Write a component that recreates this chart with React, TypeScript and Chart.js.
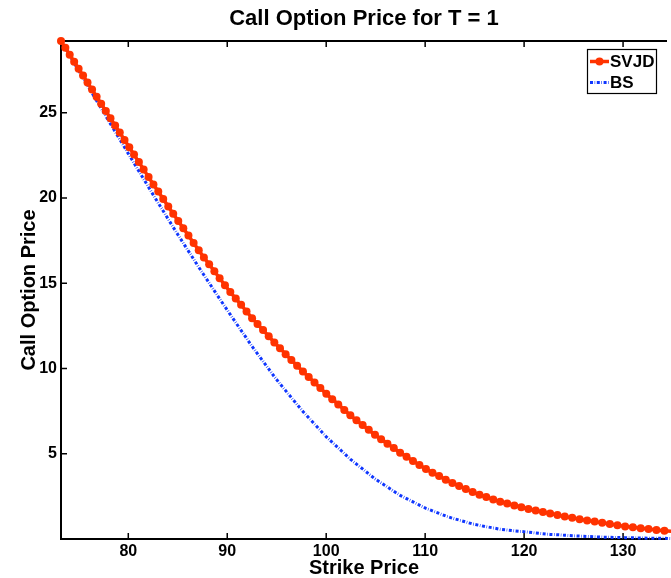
import React, { useEffect, useRef } from "react";
import { Chart, registerables } from "chart.js";

Chart.register(...registerables);

// ---------- data ----------
const strikes = [
  73.2, 73.64, 74.08, 74.53, 74.98, 75.43, 75.88, 76.34, 76.8, 77.26,
  77.73, 78.2, 78.67, 79.14, 79.62, 80.1, 80.58, 81.07, 81.55, 82.05,
  82.54, 83.03, 83.53, 84.04, 84.54, 85.05, 85.56, 86.08, 86.6, 87.12,
  87.64, 88.17, 88.7, 89.23, 89.77, 90.31, 90.86, 91.4, 91.95, 92.51,
  93.06, 93.62, 94.19, 94.76, 95.33, 95.9, 96.48, 97.06, 97.65, 98.23,
  98.82, 99.41, 100.01, 100.61, 101.22, 101.83, 102.44, 103.06, 103.68, 104.3,
  104.93, 105.55, 106.19, 106.83, 107.47, 108.12, 108.77, 109.42, 110.08, 110.74,
  111.41, 112.08, 112.75, 113.43, 114.11, 114.8, 115.49, 116.18, 116.88, 117.58,
  118.29, 119.01, 119.72, 120.44, 121.17, 121.9, 122.63, 123.37, 124.11, 124.86,
  125.61, 126.37, 127.13, 127.89, 128.66, 129.43, 130.21, 130.99, 131.78, 132.57,
  133.37, 134.18, 134.98, 135.8,
];

const svjdPrices = [
  29.2, 28.8, 28.4, 27.99, 27.58, 27.17, 26.76, 26.35, 25.93, 25.52,
  25.09, 24.67, 24.25, 23.83, 23.4, 22.97, 22.54, 22.1, 21.67, 21.22,
  20.79, 20.37, 19.94, 19.5, 19.07, 18.64, 18.22, 17.79, 17.36, 16.93,
  16.51, 16.11, 15.7, 15.29, 14.88, 14.48, 14.1, 13.73, 13.34, 12.95,
  12.6, 12.25, 11.89, 11.52, 11.18, 10.84, 10.5, 10.16, 9.82, 9.5,
  9.17, 8.85, 8.51, 8.2, 7.89, 7.57, 7.25, 6.96, 6.68, 6.4,
  6.11, 5.85, 5.59, 5.33, 5.06, 4.82, 4.58, 4.34, 4.1, 3.89,
  3.69, 3.48, 3.29, 3.11, 2.93, 2.75, 2.6, 2.46, 2.32, 2.19,
  2.08, 1.97, 1.86, 1.76, 1.67, 1.58, 1.49, 1.4, 1.32, 1.24,
  1.16, 1.09, 1.02, 0.95, 0.88, 0.81, 0.74, 0.69, 0.63, 0.58,
  0.53, 0.49, 0.44, 0.4,
];

const bsPrices = [
  29.2, 28.77, 28.34, 27.91, 27.47, 27.03, 26.59, 26.15, 25.7, 25.25,
  24.8, 24.34, 23.89, 23.43, 22.97, 22.5, 22.04, 21.57, 21.11, 20.63,
  20.16, 19.7, 19.23, 18.75, 18.28, 17.81, 17.35, 16.88, 16.41, 15.94,
  15.48, 15.02, 14.55, 14.09, 13.62, 13.16, 12.69, 12.23, 11.77, 11.29,
  10.86, 10.42, 9.97, 9.52, 9.1, 8.7, 8.29, 7.88, 7.48, 7.11,
  6.74, 6.37, 5.99, 5.67, 5.34, 5.01, 4.68, 4.39, 4.11, 3.82,
  3.53, 3.29, 3.05, 2.8, 2.56, 2.37, 2.18, 1.99, 1.8, 1.65,
  1.5, 1.35, 1.22, 1.11, 1.0, 0.88, 0.8, 0.72, 0.65, 0.57,
  0.53, 0.48, 0.44, 0.4, 0.35, 0.31, 0.27, 0.25, 0.22, 0.19,
  0.17, 0.15, 0.13, 0.11, 0.1, 0.09, 0.08, 0.07, 0.06, 0.05,
  0.04, 0.04, 0.03, 0.03,
];

const xTicks = [80, 90, 100, 110, 120, 130];
const yTicks = [5, 10, 15, 20, 25];
const seriesNames = ["SVJD", "BS"];
const seriesColors = ["#ff3300", "#0f36ff"];
const titleText = "Call Option Price for T = 1";
const xLabel = "Strike Price";
const yLabel = "Call Option Price";

const X_MIN = 73.2;
const X_MAX = 134.44;
const Y_MIN = 0;
const Y_MAX = 29.2;

const FONT = "'Liberation Sans', Arial, Helvetica, sans-serif";

// MATLAB-like box axes with inward ticks
const matlabAxes = {
  id: "matlabAxes",
  beforeDatasetsDraw(chart: any) {
    const { ctx, chartArea, scales } = chart;
    const { left, right, top, bottom } = chartArea;
    const x = scales.x;
    const y = scales.y;
    ctx.save();
    ctx.strokeStyle = "#000";
    ctx.lineWidth = 2;
    ctx.beginPath();
    ctx.moveTo(left, top);
    ctx.lineTo(right, top);
    ctx.moveTo(left, top - 1);
    ctx.lineTo(left, bottom + 1);
    ctx.moveTo(left, bottom);
    ctx.lineTo(right, bottom);
    ctx.stroke();
    ctx.lineWidth = 1.5;
    ctx.beginPath();
    for (const v of xTicks) {
      const px = x.getPixelForValue(v);
      ctx.moveTo(px, bottom);
      ctx.lineTo(px, bottom - 6);
      ctx.moveTo(px, top);
      ctx.lineTo(px, top + 6);
    }
    for (const v of yTicks) {
      const py = y.getPixelForValue(v);
      ctx.moveTo(left, py);
      ctx.lineTo(left + 6, py);
    }
    ctx.stroke();
    ctx.restore();
  },
};

// Boxed legend in the upper right corner of the axes
const boxLegend = {
  id: "boxLegend",
  afterDraw(chart: any) {
    const { ctx, chartArea } = chart;
    const w = 69;
    const h = 44;
    const bx = chartArea.right - 11 - w;
    const by = chartArea.top + 8;
    ctx.save();
    ctx.fillStyle = "#fff";
    ctx.fillRect(bx, by, w, h);
    ctx.strokeStyle = "#000";
    ctx.lineWidth = 1.2;
    ctx.strokeRect(bx + 0.5, by + 0.5, w, h);
    ctx.font = `bold 17px ${FONT}`;
    ctx.textBaseline = "middle";
    ctx.textAlign = "left";
    chart.data.datasets.forEach((ds: any, i: number) => {
      const cy = by + 12.5 + i * 21;
      const x0 = bx + 3;
      const x1 = bx + 22;
      ctx.save();
      ctx.strokeStyle = ds.borderColor;
      ctx.lineWidth = ds.borderWidth;
      ctx.setLineDash(ds.borderDash || []);
      ctx.beginPath();
      ctx.moveTo(x0, cy);
      ctx.lineTo(x1, cy);
      ctx.stroke();
      ctx.restore();
      if (ds.pointRadius > 0) {
        ctx.fillStyle = ds.pointBackgroundColor;
        ctx.beginPath();
        ctx.arc((x0 + x1) / 2, cy, ds.pointRadius, 0, Math.PI * 2);
        ctx.fill();
      }
      ctx.fillStyle = "#000";
      ctx.fillText(ds.label, bx + 23, cy + 0.5);
    });
    ctx.restore();
  },
};

export default function App() {
  const canvasRef = useRef<HTMLCanvasElement | null>(null);

  useEffect(() => {
    document.body.style.margin = "0";
    const canvas = canvasRef.current;
    if (!canvas) return;
    const chart = new Chart(canvas, {
      type: "line",
      data: {
        datasets: [
          {
            label: seriesNames[0],
            data: strikes.map((k, i) => ({ x: k, y: svjdPrices[i] })),
            borderColor: seriesColors[0],
            backgroundColor: seriesColors[0],
            pointBackgroundColor: seriesColors[0],
            pointBorderWidth: 0,
            pointRadius: 4,
            borderWidth: 3.5,
            tension: 0,
            clip: false as any,
          },
          {
            label: seriesNames[1],
            data: strikes.map((k, i) => ({ x: k, y: bsPrices[i] })),
            borderColor: seriesColors[1],
            backgroundColor: seriesColors[1],
            pointRadius: 0,
            borderWidth: 3,
            borderDash: [3, 1.6, 0.6, 1.6],
            tension: 0,
            clip: false as any,
          },
        ],
      },
      options: {
        responsive: false,
        animation: false,
        devicePixelRatio: 1,
        layout: { padding: 0 },
        plugins: {
          legend: { display: false },
          tooltip: { enabled: false },
          title: {
            display: true,
            text: titleText,
            fullSize: false,
            color: "#000",
            font: { family: FONT, size: 22, weight: "bold", lineHeight: 1.2 },
            padding: { top: 6, bottom: 8.6 },
          },
        },
        scales: {
          x: {
            type: "linear",
            position: "bottom",
            min: X_MIN,
            max: X_MAX,
            grid: { display: false, drawTicks: false },
            border: { display: false },
            afterBuildTicks: (axis: any) => {
              axis.ticks = xTicks.map((v) => ({ value: v }));
            },
            afterFit: (axis: any) => {
              axis.height = 39;
            },
            ticks: {
              color: "#000",
              padding: 3,
              maxRotation: 0,
              autoSkip: false,
              font: { family: FONT, size: 16, weight: "bold" },
            },
            title: {
              display: true,
              text: xLabel,
              color: "#000",
              font: { family: FONT, size: 20, weight: "bold", lineHeight: 1.0 },
              padding: { top: 0, bottom: 0 },
            },
          },
          y: {
            type: "linear",
            position: "left",
            min: Y_MIN,
            max: Y_MAX,
            grid: { display: false, drawTicks: false },
            border: { display: false },
            afterBuildTicks: (axis: any) => {
              axis.ticks = yTicks.map((v) => ({ value: v }));
            },
            afterFit: (axis: any) => {
              axis.width = 61;
            },
            ticks: {
              color: "#000",
              padding: 4,
              autoSkip: false,
              font: { family: FONT, size: 16, weight: "bold" },
            },
            title: {
              display: true,
              text: yLabel,
              color: "#000",
              font: { family: FONT, size: 20, weight: "bold", lineHeight: 1.2 },
              padding: { top: 17, bottom: 0 },
            },
          },
        },
      },
      plugins: [matlabAxes, boxLegend],
    } as any);
    return () => {
      chart.destroy();
    };
  }, []);

  return (
    <div style={{ width: 671, height: 578 }}>
      <canvas ref={canvasRef} width={671} height={578} style={{ display: "block" }} />
    </div>
  );
}
